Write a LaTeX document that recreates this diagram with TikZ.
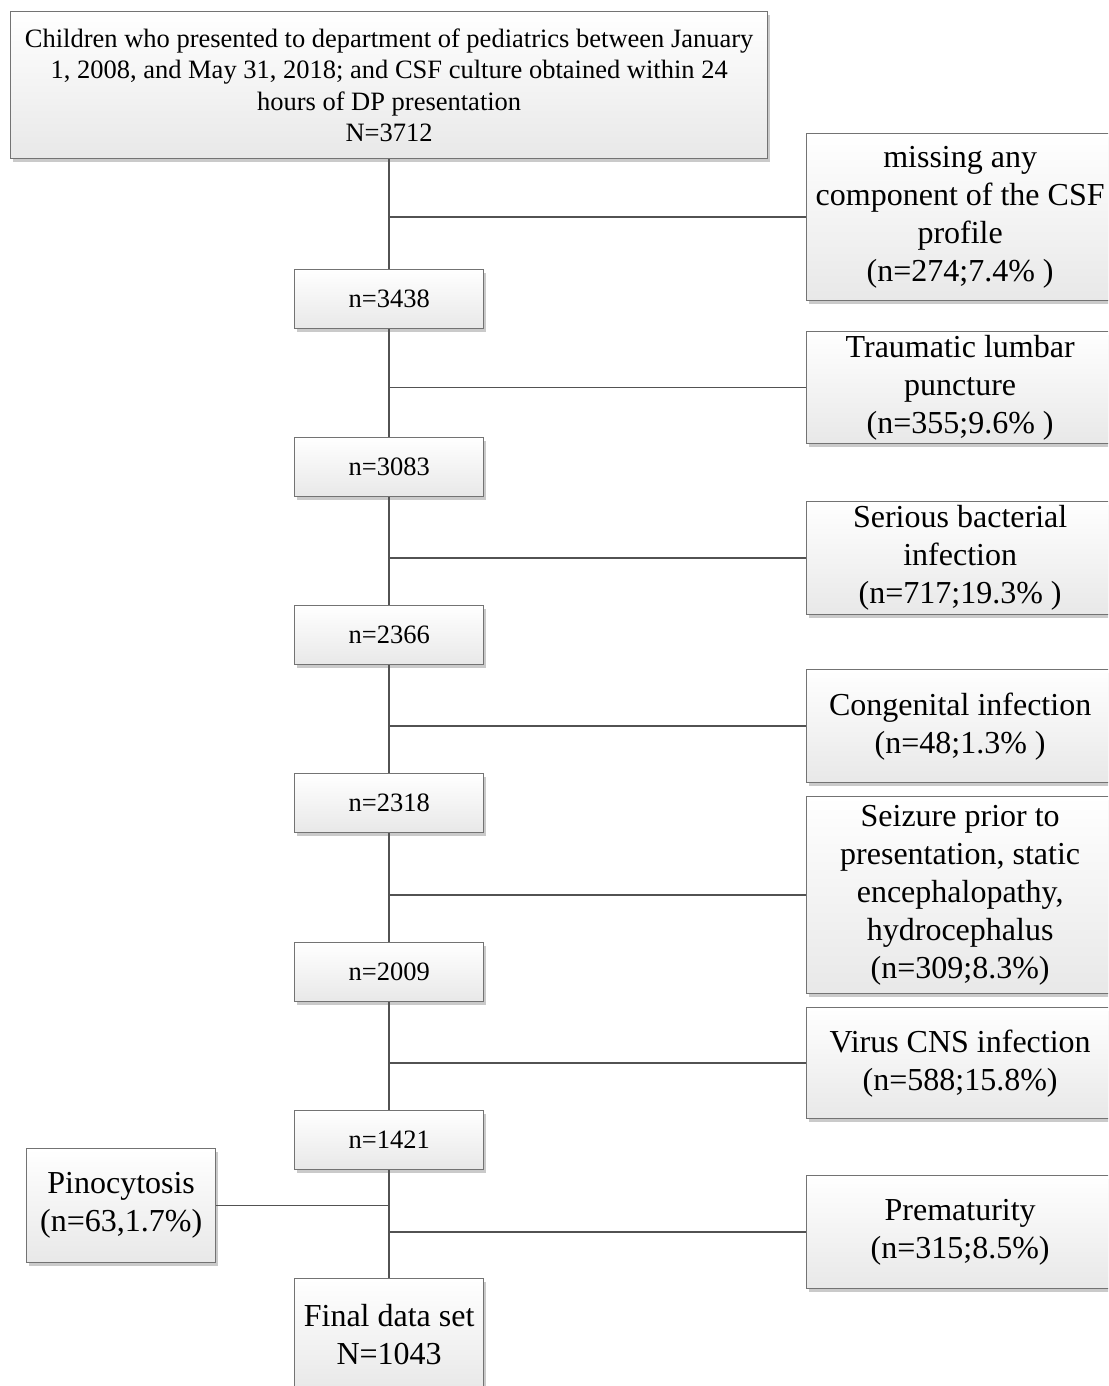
\documentclass[tikz,border=0pt]{standalone}
\usepackage{fontspec}
\setmainfont{Liberation Serif}
\usetikzlibrary{shadows}
\begin{document}
\begin{tikzpicture}[x=1pt,y=-1pt,
  box/.style={draw=black!55, line width=1.3pt, top color=white, bottom color=black!9,
    drop shadow={shadow xshift=2.5pt, shadow yshift=-3pt, fill=black!35, opacity=0.6},
    anchor=north west, inner sep=0pt, align=center, text=black},
  bigfont/.style={font=\fontsize{32}{38}\selectfont},
  midfont/.style={font=\fontsize{26.5}{31.4}\selectfont},
  cbox/.style={box, midfont, minimum width=189pt, minimum height=59pt},
  rbox/.style={box, bigfont, minimum width=307pt},
  link/.style={draw=black!68, line width=1.6pt}]
\useasboundingbox (0,0) rectangle (1108,1386);
\clip (0,0) rectangle (1108,1386);
% main column
\node[box, midfont, minimum width=757pt, minimum height=147pt] (top) at (10,11)
  {Children who presented to department of pediatrics between January\\
   1, 2008, and May 31, 2018; and CSF culture obtained within 24\\
   hours of DP presentation\\ N=3712};
\node[cbox] (c1) at (294,269) {n=3438};
\node[cbox] (c2) at (294,437) {n=3083};
\node[cbox] (c3) at (294,605) {n=2366};
\node[cbox] (c4) at (294,773) {n=2318};
\node[cbox] (c5) at (294,942) {n=2009};
\node[cbox] (c6) at (294,1110) {n=1421};
\node[box, bigfont, minimum width=189pt, minimum height=112pt] (fin) at (294,1278)
  {Final data set\\ N=1043};
% exclusion boxes
\node[rbox, minimum height=167pt] (r1) at (806,133)
  {missing any\\ component of the CSF\\ profile\\ (n=274;7.4\% )};
\node[rbox, minimum height=112pt] (r2) at (806,331)
  {Traumatic lumbar\\ puncture\\ (n=355;9.6\% )};
\node[rbox, minimum height=113pt] (r3) at (806,501)
  {Serious bacterial\\ infection\\ (n=717;19.3\% )};
\node[rbox, minimum height=113pt] (r4) at (806,669)
  {Congenital infection\\ (n=48;1.3\% )};
\node[rbox, minimum height=197pt] (r5) at (806,796)
  {Seizure prior to\\ presentation, static\\ encephalopathy,\\ hydrocephalus\\ (n=309;8.3\%)};
\node[rbox, minimum height=111pt] (r6) at (806,1007)
  {Virus CNS infection\\ (n=588;15.8\%)};
\node[rbox, minimum height=113pt] (r7) at (806,1175)
  {Prematurity\\ (n=315;8.5\%)};
\node[box, bigfont, minimum width=189pt, minimum height=114pt] (pin) at (26,1148)
  {Pinocytosis\\ (n=63,1.7\%)};
% vertical connectors
\path[link] (top.south) -- (c1.north);
\path[link] (c1.south) -- (c2.north);
\path[link] (c2.south) -- (c3.north);
\path[link] (c3.south) -- (c4.north);
\path[link] (c4.south) -- (c5.north);
\path[link] (c5.south) -- (c6.north);
\path[link] (c6.south) -- (fin.north);
% horizontal branches
\path[link] (top.south |- r1.west) -- (r1.west);
\path[link] (c1.south |- r2.west) -- (r2.west);
\path[link] (c2.south |- r3.west) -- (r3.west);
\path[link] (c3.south |- r4.west) -- (r4.west);
\path[link] (c4.south |- r5.west) -- (r5.west);
\path[link] (c5.south |- r6.west) -- (r6.west);
\path[link] (c6.south |- r7.west) -- (r7.west);
\path[link] (c6.south |- pin.east) -- (pin.east);
\end{tikzpicture}
\end{document}
